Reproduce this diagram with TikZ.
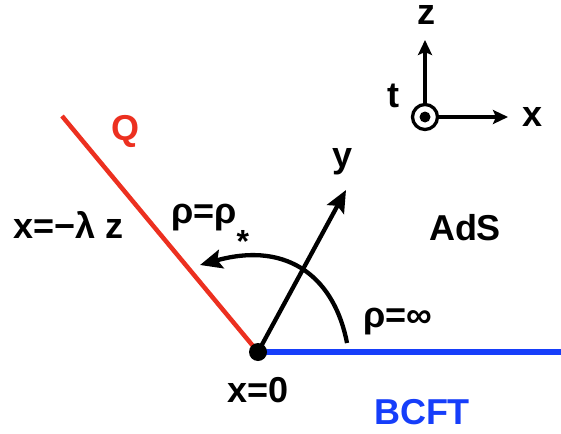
\documentclass[tikz,border=0pt]{standalone}
\usepackage{fontspec}
\setmainfont{Liberation Sans}
\usetikzlibrary{arrows.meta}

\definecolor{braneRed}{RGB}{236,48,32}
\definecolor{bcftBlue}{RGB}{22,62,250}

\begin{document}
\begin{tikzpicture}[x=1pt, y=-1pt, line width=4.3pt,
    >={Stealth[length=22pt, width=19pt, inset=4pt]},
    lbl/.style={font=\fontsize{36}{40}\selectfont\bfseries, inner sep=0pt},
    smallarrow/.style={-{Stealth[length=15pt, width=14pt, inset=3pt]}, line width=3.3pt}]
    \useasboundingbox (0,0) rectangle (561,433);

    % 定义关键坐标
    \coordinate (O) at (258, 352);
    \coordinate (QEnd) at (62, 116);
    \coordinate (BEnd) at (561, 352);
    \coordinate (YEnd) at (346, 190);
    \coordinate (ArcStart) at (347, 343);
    \coordinate (ArcEnd) at (200, 265);

    % 绘制 Q 边界与 BCFT
    \draw[braneRed, line width=4.5pt] (QEnd) -- (O);
    \draw[bcftBlue, line width=5.5pt] (O) -- (BEnd);

    % y 轴与 rho 方向的弧线箭头
    \draw[->] (O) -- (YEnd);
    \draw[->] (ArcStart) .. controls (335, 280) and (290, 240) .. (ArcEnd);

    % 原点
    \fill (O) circle (9pt);

    % 标注
    \node[lbl, braneRed] (Qlab) at (125, 131) {Q};
    \node[lbl, anchor=base west] (eqQ) at (11, 238) {x=−λ z};
    \node[lbl, anchor=base west] (rhoStar) at (169, 223) {ρ=ρ\raisebox{-29pt}{\fontsize{32}{32}\selectfont *}};
    \node[lbl] (ylab) at (343, 162) {y};
    \node[lbl] (ads) at (465, 228) {AdS};
    \node[lbl] (rhoInf) at (398, 322) {ρ=∞};
    \node[lbl] (xZero) at (258, 390) {x=0};
    \node[lbl, bcftBlue] (bcft) at (422, 412) {BCFT};

    % 右上角坐标系 (t 指向纸面外)
    \node[draw, circle, line width=3.3pt, minimum size=25pt, inner sep=0pt] (tdot) at (425, 117) {};
    \fill (tdot.center) circle (5.5pt);
    \coordinate (ZEnd) at (425, 40);
    \coordinate (XEnd) at (508, 117);
    \draw[smallarrow] (tdot.north) -- (ZEnd);
    \draw[smallarrow] (tdot.east) -- (XEnd);
    \node[lbl, anchor=base] (zlab) at (426, 25) {z};
    \node[lbl] (tlab) at (393, 96) {t};
    \node[lbl] (xlab) at (533, 117) {x};
\end{tikzpicture}
\end{document}
